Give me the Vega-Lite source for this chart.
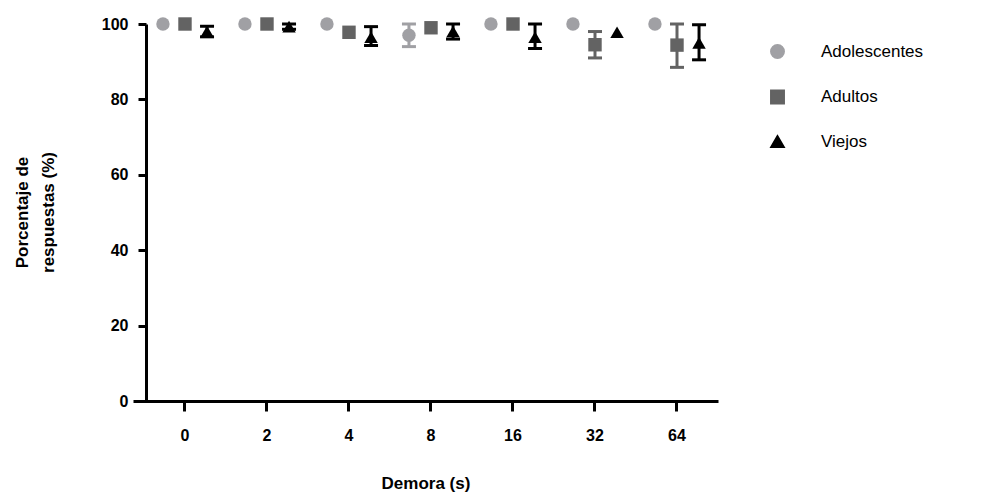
{
  "$schema": "https://vega.github.io/schema/vega-lite/v6.json",
  "width": 585,
  "height": 377,
  "autosize": {"type": "none"},
  "padding": {"left": 133, "top": 24, "right": 289, "bottom": 95},
  "background": "white",
  "config": {
    "view": {"stroke": null},
    "font": "Liberation Sans",
    "axis": {"grid": false, "domainColor": "black", "tickColor": "black", "labelColor": "black", "titleColor": "black"}
  },
  "data": {
    "values": [
      {"demora": "0", "grupo": "Adolescentes", "valor": 100, "lo": null, "hi": null},
      {"demora": "0", "grupo": "Adultos", "valor": 100, "lo": null, "hi": null},
      {"demora": "0", "grupo": "Viejos", "valor": 98, "lo": 96.6, "hi": 99.4},
      {"demora": "2", "grupo": "Adolescentes", "valor": 100, "lo": null, "hi": null},
      {"demora": "2", "grupo": "Adultos", "valor": 100, "lo": null, "hi": null},
      {"demora": "2", "grupo": "Viejos", "valor": 99.3, "lo": 98.6, "hi": 100},
      {"demora": "4", "grupo": "Adolescentes", "valor": 100, "lo": null, "hi": null},
      {"demora": "4", "grupo": "Adultos", "valor": 97.8, "lo": null, "hi": null},
      {"demora": "4", "grupo": "Viejos", "valor": 96.5, "lo": 94.3, "hi": 99.3},
      {"demora": "8", "grupo": "Adolescentes", "valor": 97, "lo": 94, "hi": 100},
      {"demora": "8", "grupo": "Adultos", "valor": 99, "lo": null, "hi": null},
      {"demora": "8", "grupo": "Viejos", "valor": 98, "lo": 96, "hi": 100},
      {"demora": "16", "grupo": "Adolescentes", "valor": 100, "lo": null, "hi": null},
      {"demora": "16", "grupo": "Adultos", "valor": 100, "lo": null, "hi": null},
      {"demora": "16", "grupo": "Viejos", "valor": 96.5, "lo": 93.5, "hi": 100},
      {"demora": "32", "grupo": "Adolescentes", "valor": 100, "lo": null, "hi": null},
      {"demora": "32", "grupo": "Adultos", "valor": 94.5, "lo": 91, "hi": 98},
      {"demora": "32", "grupo": "Viejos", "valor": 97.8, "lo": null, "hi": null},
      {"demora": "64", "grupo": "Adolescentes", "valor": 100, "lo": null, "hi": null},
      {"demora": "64", "grupo": "Adultos", "valor": 94.4, "lo": 88.5, "hi": 100},
      {"demora": "64", "grupo": "Viejos", "valor": 95, "lo": 90.5, "hi": 99.8}
    ]
  },
  "encoding": {
    "x": {
      "field": "demora",
      "type": "nominal",
      "sort": ["0", "2", "4", "8", "16", "32", "64"],
      "scale": {"paddingInner": 0, "paddingOuter": 0.067, "align": 1},
      "axis": {
        "labelAngle": 0,
        "tickSize": 10,
        "tickWidth": 3,
        "domainWidth": 3,
        "labelFontSize": 16,
        "labelFontWeight": "bold",
        "labelPadding": 16,
        "titleFontSize": 17,
        "titleFontWeight": "bold",
        "titleBaseline": "middle",
        "titleY": 82
      },
      "title": "Demora (s)"
    },
    "xOffset": {
      "field": "grupo",
      "type": "nominal",
      "sort": ["Adolescentes", "Adultos", "Viejos"],
      "scale": {"paddingInner": 0, "paddingOuter": 0.36}
    },
    "color": {
      "field": "grupo",
      "type": "nominal",
      "scale": {"domain": ["Adolescentes", "Adultos", "Viejos"], "range": ["#a0a0a4", "#636363", "#000000"]},
      "legend": {
        "title": null,
        "orient": "none",
        "legendX": 636,
        "legendY": 19,
        "padding": 0,
        "rowPadding": 24.5,
        "symbolSize": 180,
        "labelFontSize": 17,
        "labelColor": "black",
        "labelOffset": 35
      }
    }
  },
  "layer": [
    {
      "transform": [{"filter": "datum.lo != null"}],
      "mark": {"type": "rule", "strokeWidth": 3},
      "encoding": {
        "y": {"field": "lo", "type": "quantitative"},
        "y2": {"field": "hi"}
      }
    },
    {
      "transform": [{"filter": "datum.lo != null"}],
      "mark": {"type": "tick", "thickness": 3, "size": 14, "orient": "horizontal", "opacity": 1},
      "encoding": {
        "y": {"field": "lo", "type": "quantitative"}
      }
    },
    {
      "transform": [{"filter": "datum.hi != null"}],
      "mark": {"type": "tick", "thickness": 3, "size": 14, "orient": "horizontal", "opacity": 1},
      "encoding": {
        "y": {"field": "hi", "type": "quantitative"}
      }
    },
    {
      "mark": {"type": "point", "filled": true, "opacity": 1, "size": 180},
      "encoding": {
        "y": {
          "field": "valor",
          "type": "quantitative",
          "scale": {"domain": [0, 100], "nice": false},
          "axis": {
            "values": [0, 20, 40, 60, 80, 100],
            "offset": -13,
            "tickSize": 8,
            "tickWidth": 3,
            "domainWidth": 3,
            "labelFontSize": 16,
            "labelFontWeight": "bold",
            "labelPadding": 10,
            "titleFontSize": 17,
            "titleFontWeight": "bold",
            "titleAngle": -90,
            "titleBaseline": "middle",
            "titleLineHeight": 26,
            "titleX": -124,
            "titleY": 188
          },
          "title": ["Porcentaje de", "respuestas (%)"]
        },
        "shape": {
          "field": "grupo",
          "type": "nominal",
          "scale": {"domain": ["Adolescentes", "Adultos", "Viejos"], "range": ["circle", "square", "triangle-up"]},
          "legend": {
            "title": null,
            "orient": "none",
            "legendX": 636,
            "legendY": 19,
            "padding": 0,
            "rowPadding": 24.5,
            "symbolSize": 180,
            "labelFontSize": 17,
            "labelColor": "black",
            "labelOffset": 35
          }
        }
      }
    }
  ]
}
